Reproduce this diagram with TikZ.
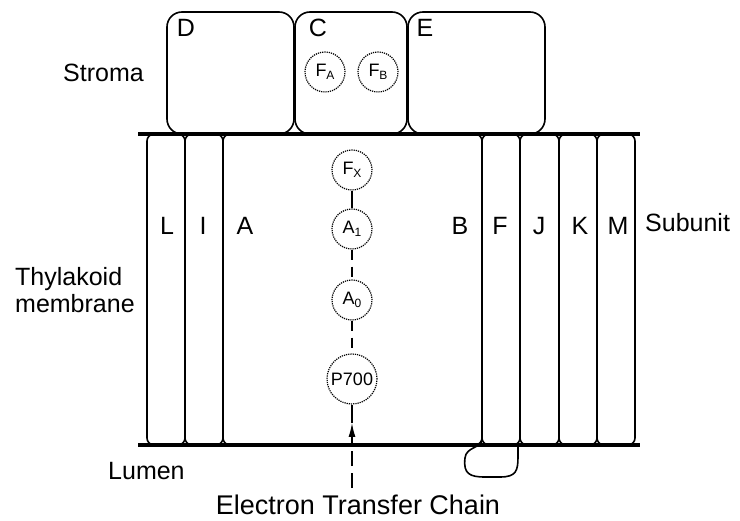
\documentclass[tikz,border=0pt]{standalone}
\usepackage{fontspec}
\setmainfont{Liberation Sans}
\usetikzlibrary{arrows.meta}

\begin{document}
\begin{tikzpicture}[x=1pt,y=-1pt,
		subunit/.style={draw,line width=1.6pt,rounded corners=7pt},
		stromabox/.style={draw,line width=1.6pt,rounded corners=15pt},
		membrane/.style={line width=3.8pt},
		cofactor/.style={circle,draw,line width=1.2pt,dash pattern=on 1.2pt off 1pt,minimum size=40pt,inner sep=0pt},
		link/.style={line width=1.3pt},
		txt/.style={inner sep=0pt}]
				\newcommand{\mylabelfont}[1]{
					\fontsize{25}{28}\selectfont{#1}
				}\newcommand{\mycofactorfont}[1]{
					\fontsize{18}{19}\selectfont{#1}
				}\newcommand{\mysub}[1]{\raisebox{-3.5pt}{\fontsize{12}{12}\selectfont #1}}%Page frame
				\useasboundingbox (0,0) rectangle (740,521);
				%Subunits inside the membrane
				\foreach \l/\r in {147/185,185/223,223/482,482/520,520/559,559/597,597/635} {
					\draw[subunit] (\l,134) rectangle (\r,445);
				}
				%Loop of subunit F in the lumen
				\draw[line width=1.6pt] (482,440) .. controls (481,448) and (466,447) .. (465,458) .. controls (463,474) and (470,477) .. (485,477) -- (500,477) .. controls (516,477) and (518,471) .. (518,457) -- (518,445);
				%Subunits on the stroma side
				\draw[stromabox] (167,12) rectangle (294,134);
				\draw[stromabox] (295,12) rectangle (407,134);
				\draw[stromabox] (408,12) rectangle (545,134);
				%The two membrane surfaces
				\coordinate (memTL) at (138,134);
				\coordinate (memTR) at (640,134);
				\coordinate (memBL) at (138,445);
				\coordinate (memBR) at (640,445);
				\draw[membrane] (memTL) -- (memTR);
				\draw[membrane] (memBL) -- (memBR);
				%Subunit letters
				\node [txt,anchor=base] (lblD) at (186,37) {\mylabelfont{D}};
				\node [txt,anchor=base] (lblC) at (318,37) {\mylabelfont{C}};
				\node [txt,anchor=base] (lblE) at (425,37) {\mylabelfont{E}};
				\foreach \n/\x in {L/167,I/203,A/245,B/460,F/500,J/539,K/580,M/618} {
					\node [txt,anchor=base] (lbl\n) at (\x,235) {\mylabelfont{\n}};
				}
				%Side labels
				\node [txt,anchor=base west] (stroma) at (63,82) {\mylabelfont{Stroma}};
				\node [txt,anchor=base west] (thylakoid) at (15,286) {\mylabelfont{Thylakoid}};
				\node [txt,anchor=base west] (membr) at (15,313) {\mylabelfont{membrane}};
				\node [txt,anchor=base west] (lumen) at (108,480) {\mylabelfont{Lumen}};
				\node [txt,anchor=base west] (subunit) at (645,232) {\mylabelfont{Subunit}};
				%Cofactors
				\node [cofactor] (FA) at (325,72) {\mycofactorfont{F\mysub{A}}};
				\node [cofactor] (FB) at (378,72) {\mycofactorfont{F\mysub{B}}};
				\node [cofactor] (FX) at (352,170) {\mycofactorfont{F\mysub{X}}};
				\node [cofactor] (A1) at (352,229) {\mycofactorfont{A\mysub{1}}};
				\node [cofactor] (A0) at (352,300) {\mycofactorfont{A\mysub{0}}};
				\node [cofactor,minimum size=50pt] (P700) at (352,379) {\mycofactorfont{P700}};
				%Electron transfer chain
				\draw[link] (FX) -- (A1);
				\draw[link,dash pattern=on 10pt off 7pt] (A1) -- (A0);
				\draw[link,dash pattern=on 10pt off 7pt] (A0) -- (P700);
				\node [txt,anchor=base] (etc) at (358,515) {\fontsize{27}{30}\selectfont Electron Transfer Chain};
				\coordinate (arrowbase) at (352,440);
				\coordinate (arrowtip) at (352,423);
				\draw[link,dash pattern=on 15pt off 7pt,shorten <=7pt] (P700 |- etc.north) -- (arrowbase);
				\draw[link,-{Latex[length=14pt,width=7pt]}] (arrowbase) -- (arrowtip);
				\draw[link] (arrowtip) -- (P700);
\end{tikzpicture}
\end{document}
